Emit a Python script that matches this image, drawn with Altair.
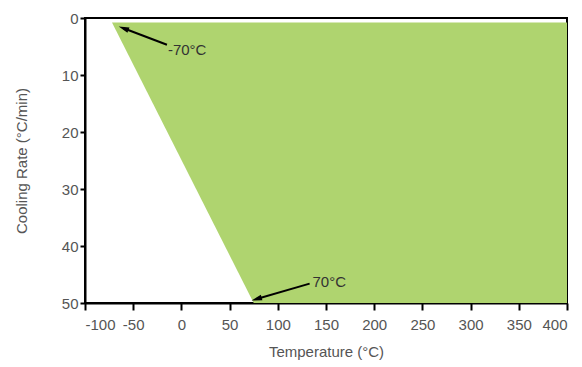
import altair as alt
import pandas as pd

# Region boundary (cooling rate vs. left temperature edge)
region_rate = [0.8, 50]
region_left_temp = [-72, 75]
region_right_temp = [400, 400]

# Annotations
label_text = ["-70°C", "70°C"]
label_temp = [-14, 136]
label_rate = [5.6, 46.3]

arrow_id = ["a", "a", "b", "b"]
arrow_temp = [-15, -60, 133, 78]
arrow_rate = [4.7, 1.8, 46.6, 49.3]

head_temp = [-60, 78]
head_rate = [1.8, 49.3]
head_angle = [291, 254]

x_ticks = [-100, -50, 0, 50, 100, 150, 200, 250, 300, 350, 400]
y_ticks = [0, 10, 20, 30, 40, 50]

FONT = "Liberation Sans"
GREEN = "#afd46f"
GRAY = "#555555"

region = pd.DataFrame({"rate": region_rate, "left": region_left_temp, "right": region_right_temp})
labels = pd.DataFrame({"text": label_text, "temp": label_temp, "rate": label_rate})
arrows = pd.DataFrame({"id": arrow_id, "temp": arrow_temp, "rate": arrow_rate})
heads = pd.DataFrame({"temp": head_temp, "rate": head_rate, "angle": head_angle})

xscale = alt.Scale(domain=[-100, 400], nice=False, zero=False)
yscale = alt.Scale(domain=[0, 50], reverse=True, nice=False)

xaxis = alt.Axis(values=x_ticks, title="Temperature (°C)", grid=False, tickSize=7,
                 tickWidth=2, domainWidth=2, domainColor="black", tickColor="black",
                 labelExpr="'' + datum.value", labelOverlap=False,
                 labelFont=FONT, labelFontSize=15, labelColor=GRAY, labelPadding=7,
                 titleFont=FONT, titleFontSize=15, titleColor=GRAY, titleFontWeight="normal",
                 titlePadding=12)
yaxis = alt.Axis(values=y_ticks, title="Cooling Rate (°C/min)", grid=False, tickSize=5,
                 tickWidth=2, domainWidth=2, domainColor="black", tickColor="black",
                 labelOverlap=False,
                 labelFont=FONT, labelFontSize=15, labelColor=GRAY, labelPadding=2,
                 titleFont=FONT, titleFontSize=15, titleColor=GRAY, titleFontWeight="normal",
                 titlePadding=32)

area = alt.Chart(region).mark_area(orient="horizontal", color=GREEN).encode(
    y=alt.Y("rate:Q", scale=yscale, axis=yaxis),
    x=alt.X("left:Q", scale=xscale, axis=xaxis),
    x2="right:Q",
)

lines = alt.Chart(arrows).mark_line(color="black", strokeWidth=2).encode(
    x=alt.X("temp:Q", scale=xscale),
    y=alt.Y("rate:Q", scale=yscale),
    detail="id:N",
)

arrowheads = alt.Chart(heads).mark_point(
    shape="M0,-1L0.55,1L-0.55,1Z", filled=True, color="black", opacity=1, size=110
).encode(
    x=alt.X("temp:Q", scale=xscale),
    y=alt.Y("rate:Q", scale=yscale),
    angle=alt.Angle("angle:Q", scale=None),
)

texts = alt.Chart(labels).mark_text(
    align="left", baseline="middle", font=FONT, fontSize=15, color="#333333"
).encode(
    x=alt.X("temp:Q", scale=xscale),
    y=alt.Y("rate:Q", scale=yscale),
    text="text:N",
)

chart = alt.layer(area, lines, arrowheads, texts).properties(
    width=482, height=285,
    autosize=alt.AutoSizeParams(type="none"),
    padding={"left": 77, "top": 10, "right": 7, "bottom": 64},
).configure_view(stroke="black", strokeWidth=2)

chart.save("out.html", embed_options={"renderer": "svg", "actions": False})
